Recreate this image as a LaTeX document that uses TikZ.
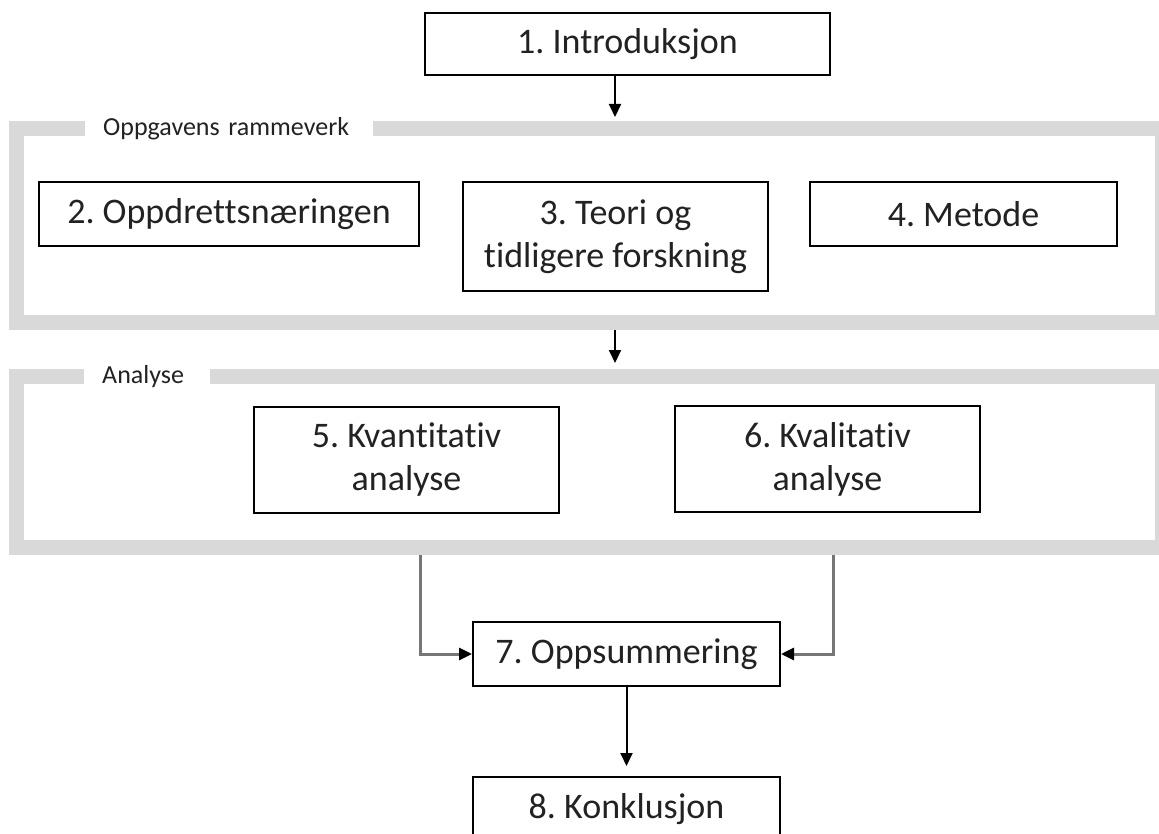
\documentclass[tikz,border=0pt]{standalone}
\usepackage{fontspec}
\setmainfont{Carlito}[Ligatures=NoCommon]
\usetikzlibrary{arrows.meta,positioning}
\definecolor{framegray}{HTML}{D9D9D9}
\definecolor{linegray}{HTML}{767676}
\definecolor{textgray}{HTML}{222222}
\frenchspacing

\begin{document}
\begin{tikzpicture}[x=1pt,y=-1pt,align=center]
\tikzstyle{chapter}=[draw=black,line width=2pt,text=textgray,inner sep=0pt,font=\fontsize{36}{43}\selectfont]
\tikzstyle{frame}=[draw=framegray,line width=15pt,minimum width=1146pt,inner sep=0pt]
\tikzstyle{framelabel}=[fill=white,inner xsep=18pt,inner ysep=0pt,minimum height=24pt,align=left,text=textgray,font=\fontsize{26}{30}\selectfont]
\tikzstyle{fixed}=[-{Triangle[length=13pt,width=12pt]},line width=2pt]
\tikzstyle{gather}=[-{Triangle[length=13pt,width=12pt,color=black]},line width=3pt,draw=linegray]

\useasboundingbox (0,0) rectangle (1159,834);
\clip (0,0) rectangle (1159,834);

\node[frame,minimum height=194pt] (ramme) at (589.5,225.5) {};
\node[frame,minimum height=171pt] (analyse) at (589.5,462) {};
\node[framelabel,anchor=west,text width=252pt] (rammelabel) at (85,128.5) {Oppgavens rammeverk};
\node[framelabel,anchor=west,text width=90pt] (analyselabel) at (84,376.5) {Analyse};

\node[chapter,minimum width=405pt,minimum height=62pt] (intro) at (627.5,44) {1. Introduksjon};
\node[chapter,minimum width=380pt,minimum height=64pt] (naering) at (229,214) {2. Oppdrettsnæringen};
\node[chapter,minimum width=305pt,minimum height=109pt] (teori) at (615.5,236.5) {3. Teori og\\tidligere forskning};
\node[chapter,minimum width=307pt,minimum height=64pt] (metode) at (963.5,214) {4. Metode};
\node[chapter,minimum width=305pt,minimum height=106pt] (kvant) at (406.5,460) {5. Kvantitativ\\analyse};
\node[chapter,minimum width=305pt,minimum height=106pt] (kval) at (827.5,459) {6. Kvalitativ\\analyse};
\node[chapter,minimum width=307pt,minimum height=64pt] (opps) at (626.5,654) {7. Oppsummering};
\node[chapter,minimum width=307pt,minimum height=64pt,below=89pt of opps] (konkl) {8. Konklusjon};

\coordinate (mid) at (615,0);
\coordinate (lx) at (420,0);
\coordinate (rx) at (833,0);

\path
  (intro.south -| mid) edge [fixed,shorten >=4pt] (ramme.north -| mid)
  (ramme.south -| mid) edge [fixed,shorten >=6pt] (analyse.north -| mid)
  (opps.south) edge [fixed,shorten >=10pt] (konkl.north);
\draw[gather] (analyse.south -| lx) |- (opps.west);
\draw[gather] (analyse.south -| rx) |- (opps.east);
\end{tikzpicture}
\end{document}
